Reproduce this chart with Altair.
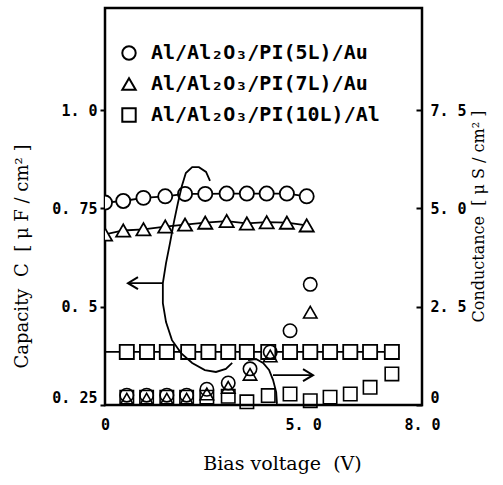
import altair as alt
import pandas as pd

# ---------------- data ----------------
S5 = "Al/Al₂O₃/PI(5L)/Au"
S7 = "Al/Al₂O₃/PI(7L)/Au"
S10 = "Al/Al₂O₃/PI(10L)/Al"
series_names = [S5, S7, S10]
series_shapes = ["circle", "triangle-up", "square"]

# capacity (left axis, µF/cm²)
cap_x_5_7 = [0.0, 0.46, 0.97, 1.52, 2.02, 2.53, 3.07, 3.58, 4.08, 4.59, 5.09]
cap_5L = [0.765, 0.769, 0.777, 0.781, 0.787, 0.787, 0.788, 0.788, 0.788, 0.788, 0.781]
cap_7L = [0.684, 0.694, 0.697, 0.704, 0.709, 0.714, 0.718, 0.712, 0.715, 0.714, 0.707]
cap_x_10 = [0.55, 1.06, 1.56, 2.10, 2.61, 3.11, 3.58, 4.12, 4.67, 5.18, 5.68, 6.19, 6.69, 7.24]
cap_10L = [0.385] * 14
cap_10L_line_start = 0.0

# conductance (right axis, µS/cm²)
cond_x_5 = [0.55, 1.05, 1.56, 2.06, 2.57, 3.11, 3.66, 4.17, 4.67, 5.18]
cond_5L = [0.25, 0.25, 0.25, 0.25, 0.40, 0.56, 0.92, 1.35, 1.89, 3.07]
cond_x_7 = [0.55, 1.05, 1.56, 2.06, 2.57, 3.11, 3.66, 4.17, 5.18]
cond_7L = [0.15, 0.15, 0.15, 0.15, 0.28, 0.45, 0.78, 1.25, 2.36]
cond_x_10 = [0.55, 1.05, 1.56, 2.06, 2.57, 3.11, 3.58, 4.12, 4.67, 5.18, 5.68, 6.19, 6.69, 7.24]
cond_10L = [0.20, 0.20, 0.20, 0.20, 0.20, 0.22, 0.08, 0.24, 0.28, 0.11, 0.20, 0.28, 0.45, 0.79]

# annotation curves / arrows (in data units: V, capacity)
curve1_x = [2.65, 2.55, 2.37, 2.20, 2.04, 1.94, 1.84, 1.74, 1.64, 1.54, 1.46, 1.46, 1.54, 1.69, 1.92, 2.20, 2.52, 2.80, 3.05, 3.21]
curve1_c = [0.820, 0.843, 0.855, 0.855, 0.840, 0.807, 0.764, 0.716, 0.662, 0.611, 0.560, 0.509, 0.461, 0.415, 0.382, 0.357, 0.339, 0.334, 0.342, 0.357]
curve2_x = [3.61, 3.81, 3.99, 4.14, 4.24, 4.32, 4.34]
curve2_c = [0.364, 0.367, 0.357, 0.339, 0.314, 0.283, 0.253]
arrow_left_x = [1.46, 0.58]
arrow_left_c = [0.560, 0.560]
arrow_right_x = [4.24, 5.25]
arrow_right_c = [0.326, 0.326]

# axis ticks
x_ticks = [0, 5, 8]
x_labels = ["0", "5. 0", "8. 0"]
c_ticks = [0.25, 0.5, 0.75, 1.0]
c_labels = ["0. 25", "0. 5", "0. 75", "1. 0"]
g_ticks = [0, 2.5, 5.0, 7.5]
g_labels = ["0", "2. 5", "5. 0", "7. 5"]

NB = "\u00a0"
x_title = f"Bias voltage{NB}{NB}(V)"
c_title = f"Capacity{NB}{NB}C{NB}{NB}[{NB}μ{NB}F{NB}/{NB}cm²{NB}]"
g_title = f"Conductance{NB}{NB}[{NB}μ{NB}S{NB}/{NB}cm²{NB}]"

# ---------------- tables ----------------
cap_pts = pd.concat([
    pd.DataFrame({"series": S5, "V": cap_x_5_7, "C": cap_5L}),
    pd.DataFrame({"series": S7, "V": cap_x_5_7, "C": cap_7L}),
    pd.DataFrame({"series": S10, "V": cap_x_10, "C": cap_10L}),
], ignore_index=True)
cap_lines = pd.concat([
    cap_pts,
    pd.DataFrame({"series": [S10], "V": [cap_10L_line_start], "C": [cap_10L[0]]}),
], ignore_index=True)
cond_pts = pd.concat([
    pd.DataFrame({"series": S5, "V": cond_x_5, "G": cond_5L}),
    pd.DataFrame({"series": S7, "V": cond_x_7, "G": cond_7L}),
    pd.DataFrame({"series": S10, "V": cond_x_10, "G": cond_10L}),
], ignore_index=True)
curves = pd.concat([
    pd.DataFrame({"id": "c1", "V": curve1_x, "C": curve1_c, "k": range(len(curve1_x))}),
    pd.DataFrame({"id": "c2", "V": curve2_x, "C": curve2_c, "k": range(len(curve2_x))}),
    pd.DataFrame({"id": "a1", "V": arrow_left_x, "C": arrow_left_c, "k": [0, 1]}),
    pd.DataFrame({"id": "a2", "V": arrow_right_x, "C": arrow_right_c, "k": [0, 1]}),
], ignore_index=True)
head_left = pd.DataFrame({"V": [arrow_left_x[-1]], "C": [arrow_left_c[-1]]})
head_right = pd.DataFrame({"V": [arrow_right_x[-1]], "C": [arrow_right_c[-1]]})


def label_expr(vals, labs):
    expr = "''"
    for v, l in reversed(list(zip(vals, labs))):
        expr = f"abs(datum.value - {v}) < 1e-6 ? '{l}' : ({expr})"
    return expr


TICK_FONT = "DejaVu Sans Mono"
TITLE_FONT = "DejaVu Serif"

x_enc = alt.X("V:Q", scale=alt.Scale(domain=[0, 8], nice=False, zero=False),
              axis=alt.Axis(values=x_ticks, labelExpr=label_expr(x_ticks, x_labels),
                            ticks=False, labelPadding=12, labelFont=TICK_FONT,
                            labelFontWeight="bold", labelFontSize=15, labelFlush=False,
                            title=x_title, titleFont=TITLE_FONT,
                            titleFontSize=19, titleFontWeight="normal",
                            titleX=177, titleY=58, titleBaseline="middle",
                            domain=False, grid=False))

c_scale = alt.Scale(domain=[0.25, 1.26], nice=False, zero=False)
y_cap = alt.Y("C:Q", scale=c_scale,
              axis=alt.Axis(values=c_ticks, labelExpr=label_expr(c_ticks, c_labels),
                            tickSize=5, tickWidth=2, labelPadding=3,
                            labelFont=TICK_FONT, labelFontWeight="bold", labelFontSize=15,
                            labelFlush=True,
                            title=c_title, titleFont=TITLE_FONT,
                            titleFontSize=18, titleFontWeight="normal",
                            titleAngle=270, titleX=-83, titleY=248,
                            titleAlign="center", titleBaseline="middle",
                            domain=False, grid=False))

y_cond = alt.Y("G:Q", scale=alt.Scale(domain=[0, 10.1], nice=False, zero=False),
               axis=alt.Axis(orient="right", values=g_ticks,
                             labelExpr=label_expr(g_ticks, g_labels),
                             offset=-6, tickSize=6, tickWidth=2, labelPadding=8,
                             labelFont=TICK_FONT, labelFontWeight="bold", labelFontSize=15,
                             labelFlush=True,
                             title=g_title, titleFont=TITLE_FONT,
                             titleFontSize=16, titleFontWeight="normal",
                             titleAngle=270, titleX=62, titleY=208,
                             titleAlign="center", titleBaseline="middle",
                             domain=False, grid=False))

legend = alt.Legend(title=None, orient="none", legendX=14, legendY=35,
                    labelFont=TICK_FONT, labelFontWeight="bold", labelFontSize=20,
                    labelColor="black", labelLimit=0, symbolSize=180, symbolStrokeWidth=2,
                    symbolStrokeColor="black", symbolOpacity=1,
                    rowPadding=10, labelOffset=12, padding=0)
shape_scale = alt.Scale(domain=series_names, range=series_shapes)

lines_layer = alt.Chart(cap_lines).mark_line(color="black", strokeWidth=1.8, clip=True).encode(
    x=x_enc, y=y_cap, detail="series:N", order="V:Q")
pts_layer = alt.Chart(cap_pts).mark_point(filled=True, fill="white", stroke="black",
                                          strokeWidth=1.8, size=200, opacity=1, clip=True).encode(
    x=x_enc, y=y_cap,
    shape=alt.Shape("series:N", scale=shape_scale, legend=None))
curve_layer = alt.Chart(curves).mark_line(color="black", strokeWidth=1.8).encode(
    x=x_enc, y=y_cap, detail="id:N", order="k:Q")
hl_layer = alt.Chart(head_left).mark_point(shape="M 1 -0.6 L 0 0 L 1 0.6", size=400,
                                           filled=False, stroke="black", strokeWidth=2,
                                           opacity=1).encode(x=x_enc, y=y_cap)
hr_layer = alt.Chart(head_right).mark_point(shape="M -1 -0.6 L 0 0 L -1 0.6", size=400,
                                            filled=False, stroke="black", strokeWidth=2,
                                            opacity=1).encode(x=x_enc, y=y_cap)

left = alt.layer(lines_layer, pts_layer, curve_layer, hl_layer, hr_layer)

cond_layer = alt.Chart(cond_pts).mark_point(filled=False, color="black", stroke="black",
                                            strokeWidth=1.6, size=180, opacity=1).encode(
    x=x_enc, y=y_cond,
    shape=alt.Shape("series:N", scale=shape_scale, legend=legend))

chart = alt.layer(left, cond_layer).resolve_scale(y="independent").resolve_legend(
    shape="independent").properties(
    width=317, height=397,
    autosize=alt.AutoSizeParams(type="none"),
    padding={"left": 105, "top": 8, "right": 81, "bottom": 80},
    background="white",
).configure_view(stroke="black", strokeWidth=2.5).configure_axis(
    labelColor="black", tickColor="black", titleColor="black")

chart.save("out.html", embed_options={"renderer": "svg", "actions": False})
